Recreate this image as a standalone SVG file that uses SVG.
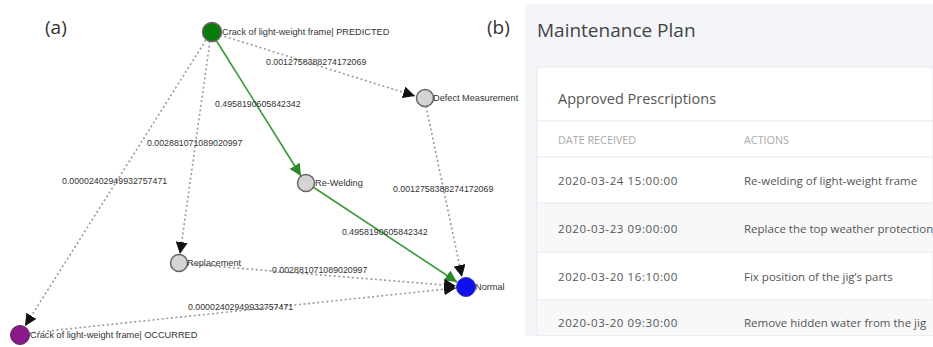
<svg xmlns="http://www.w3.org/2000/svg" width="933" height="347" viewBox="0 0 933 347">
<defs>
<style>
.nl{font-family:"Liberation Sans",Arial,sans-serif;font-size:9.2px;fill:#333}
.el{font-family:"Liberation Sans",Arial,sans-serif;font-size:8.8px;fill:#333}
.dot{fill:none;stroke:#9a9a9a;stroke-width:1.6;stroke-dasharray:2 2.6}
.grn{fill:none;stroke:#3a9a3a;stroke-width:1.6}
.node{stroke:#666;stroke-width:1.5}
.big{font-family:"Open Sans","Liberation Sans",sans-serif;fill:#333}
.ui{font-family:"Open Sans","Liberation Sans",sans-serif}
.row{font-family:"Open Sans","Liberation Sans",sans-serif;font-size:11.5px;fill:#555}
.date{font-family:"Open Sans","Liberation Sans",sans-serif;font-size:11.5px;fill:#555;letter-spacing:0.6px}
.sep{stroke:#e6e7ec;stroke-width:1}
</style>
<marker id="ab" viewBox="0 0 10 10" refX="10" refY="5" markerWidth="12" markerHeight="12" markerUnits="userSpaceOnUse" orient="auto"><path d="M0,0 L10,5 L0,10 Z" fill="#111"/></marker>
<marker id="ag" viewBox="0 0 10 10" refX="10" refY="5" markerWidth="12" markerHeight="12" markerUnits="userSpaceOnUse" orient="auto"><path d="M0,0 L10,5 L0,10 Z" fill="#2a8a2a"/></marker>
</defs>
<rect width="933" height="347" fill="#ffffff"/>
<text x="45" y="34" class="big" font-size="19">(a)</text>
<text x="487" y="34" class="big" font-size="19">(b)</text>

<g id="connectors">
<line class="dot" x1="220" y1="35" x2="415" y2="96" marker-end="url(#ab)"/>
<line class="grn" x1="216" y1="40" x2="301" y2="176" marker-end="url(#ag)"/>
<line class="dot" x1="210" y1="41" x2="180" y2="254" marker-end="url(#ab)"/>
<line class="dot" x1="206" y1="40" x2="25" y2="326" marker-end="url(#ab)"/>
<line class="dot" x1="426" y1="106" x2="462" y2="277" marker-end="url(#ab)"/>
<line class="grn" x1="313" y1="187" x2="457" y2="282" marker-end="url(#ag)"/>
<line class="dot" x1="187" y1="264" x2="456" y2="286" marker-end="url(#ab)"/>
<line class="dot" x1="29" y1="333" x2="456" y2="288" marker-end="url(#ab)"/>
<text class="el" x="266" y="65">0.0012758388274172069</text>
<text class="el" x="215" y="107">0.4958190605842342</text>
<text class="el" x="147" y="146">0.002881071089020997</text>
<text class="el" x="62" y="184">0.00002402949932757471</text>
<text class="el" x="393" y="192">0.0012758388274172069</text>
<text class="el" x="342" y="235">0.4958190605842342</text>
<text class="el" x="272" y="273">0.002881071089020997</text>
<text class="el" x="188" y="310">0.00002402949932757471</text>
</g>

<g id="n-predicted">
<circle class="node" cx="212" cy="32" r="9.5" fill="#0a7a0a" stroke="#2a5a2a"/>
<text class="nl" x="222" y="35">Crack of light-weight frame| PREDICTED</text>
</g>
<g id="n-defect">
<circle class="node" cx="425" cy="98" r="8.5" fill="#d4d4d4"/>
<text class="nl" x="433" y="101">Defect Measurement</text>
</g>
<g id="n-rewelding">
<circle class="node" cx="306" cy="183" r="8.5" fill="#d4d4d4"/>
<text class="nl" x="315" y="186">Re-Welding</text>
</g>
<g id="n-replacement">
<circle class="node" cx="179" cy="263" r="8.5" fill="#d4d4d4"/>
<text class="nl" x="187" y="266">Replacement</text>
</g>
<g id="n-normal">
<circle cx="466" cy="287" r="9.5" fill="#1010ee" stroke="#3333aa" stroke-width="1"/>
<text class="nl" x="475" y="290">Normal</text>
</g>
<g id="n-occurred">
<circle cx="20" cy="335" r="9.5" fill="#8a1a8a" stroke="#5a2a5a" stroke-width="1"/>
<text class="nl" x="30" y="338">Crack of light-weight frame| OCCURRED</text>
</g>

<g id="panel-b">
<rect x="525" y="4" width="408" height="332" fill="#f4f5f8"/>
<text x="537" y="37" class="ui" font-size="19" fill="#444">Maintenance Plan</text>
<rect x="537" y="67" width="396" height="268" fill="#ffffff" stroke="#e6e7ec"/>
<text x="558" y="104" class="ui" font-size="14.5" fill="#555">Approved Prescriptions</text>
<line class="sep" x1="537" y1="121" x2="933" y2="121"/>
<text x="558" y="144" class="ui" font-size="10.8" fill="#aaa">DATE RECEIVED</text>
<text x="744" y="144" class="ui" font-size="10.8" fill="#aaa">ACTIONS</text>
<line class="sep" x1="537" y1="157" x2="933" y2="157"/>
<rect x="538" y="203" width="395" height="49" fill="#f8f8f9"/>
<rect x="538" y="300" width="395" height="35" fill="#f8f8f9"/>
<line class="sep" x1="537" y1="203" x2="933" y2="203"/>
<line class="sep" x1="537" y1="252" x2="933" y2="252"/>
<line class="sep" x1="537" y1="300" x2="933" y2="300"/>
<text x="558" y="185" class="date">2020-03-24 15:00:00</text>
<text x="744" y="185" class="row">Re-welding of light-weight frame</text>
<text x="558" y="233" class="date">2020-03-23 09:00:00</text>
<text x="744" y="233" class="row">Replace the top weather protection</text>
<text x="558" y="281" class="date">2020-03-20 16:10:00</text>
<text x="744" y="281" class="row">Fix position of the jig’s parts</text>
<text x="558" y="327" class="date">2020-03-20 09:30:00</text>
<text x="744" y="327" class="row">Remove hidden water from the jig</text>
</g>
</svg>
